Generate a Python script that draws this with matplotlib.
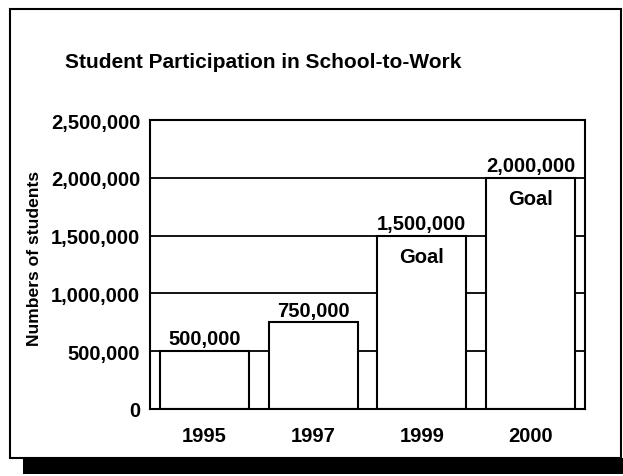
import matplotlib.pyplot as plt
from matplotlib.patches import Rectangle
from matplotlib.ticker import FuncFormatter

plt.rcParams['font.family'] = ['Liberation Sans', 'DejaVu Sans']
plt.rcParams['font.weight'] = 'bold'

# data
years = ['1995', '1997', '1999', '2000']
students = [500000, 750000, 1500000, 2000000]
is_goal = [False, False, True, True]
y_ticks = [0, 500000, 1000000, 1500000, 2000000, 2500000]

fig = plt.figure(figsize=(6.23, 4.77), dpi=100)

# page frame with drop shadow
fig.patches.append(Rectangle((23/623, 2/477), 600/623, 16/477, transform=fig.transFigure,
                             facecolor='black', edgecolor='none', zorder=0))
fig.patches.append(Rectangle((10/623, 18/477), 611/623, 449/477, transform=fig.transFigure,
                             facecolor='white', edgecolor='black', linewidth=1.5, zorder=1))

ax = fig.add_axes([150/623, 67/477, 435/623, 289/477])
ax.set_zorder(2)
ax.patch.set_alpha(0)

x = range(len(years))
for v in y_ticks:
    ax.axhline(v, color='black', linewidth=1.3, zorder=1)
bars = ax.bar(x, students, width=0.82, color='white', edgecolor='black', linewidth=1.5, zorder=2)

for xi, v, g in zip(x, students, is_goal):
    ax.annotate(f'{v:,}', (xi, v), xytext=(0, 2), textcoords='offset points',
                ha='center', va='bottom', fontsize=14.5, fontweight='bold')
    if g:
        ax.annotate('Goal', (xi, v), xytext=(0, -15), textcoords='offset points',
                    ha='center', va='center', fontsize=14.5, fontweight='bold')

ax.set_xlim(-0.5, 3.5)
ax.set_ylim(0, 2500000)
ax.set_yticks(y_ticks)
ax.yaxis.set_major_formatter(FuncFormatter(lambda v, p: f'{int(v):,}'))
ax.set_xticks(list(x))
ax.set_xticklabels(years)
ax.tick_params(axis='both', length=0, labelsize=14.5)
ax.tick_params(axis='y', pad=7)
ax.tick_params(axis='x', pad=12)
for s in ax.spines.values():
    s.set_linewidth(1.5)

fig.text(35/623, 1 - 258/477, 'Numbers of students', rotation=90, ha='center', va='center',
         fontsize=12.6, fontweight='bold')
fig.text(263/623, 1 - 62/477, 'Student Participation in School-to-Work', ha='center', va='center',
         fontsize=15, fontweight='bold')

fig.savefig('out.png', dpi=100)
